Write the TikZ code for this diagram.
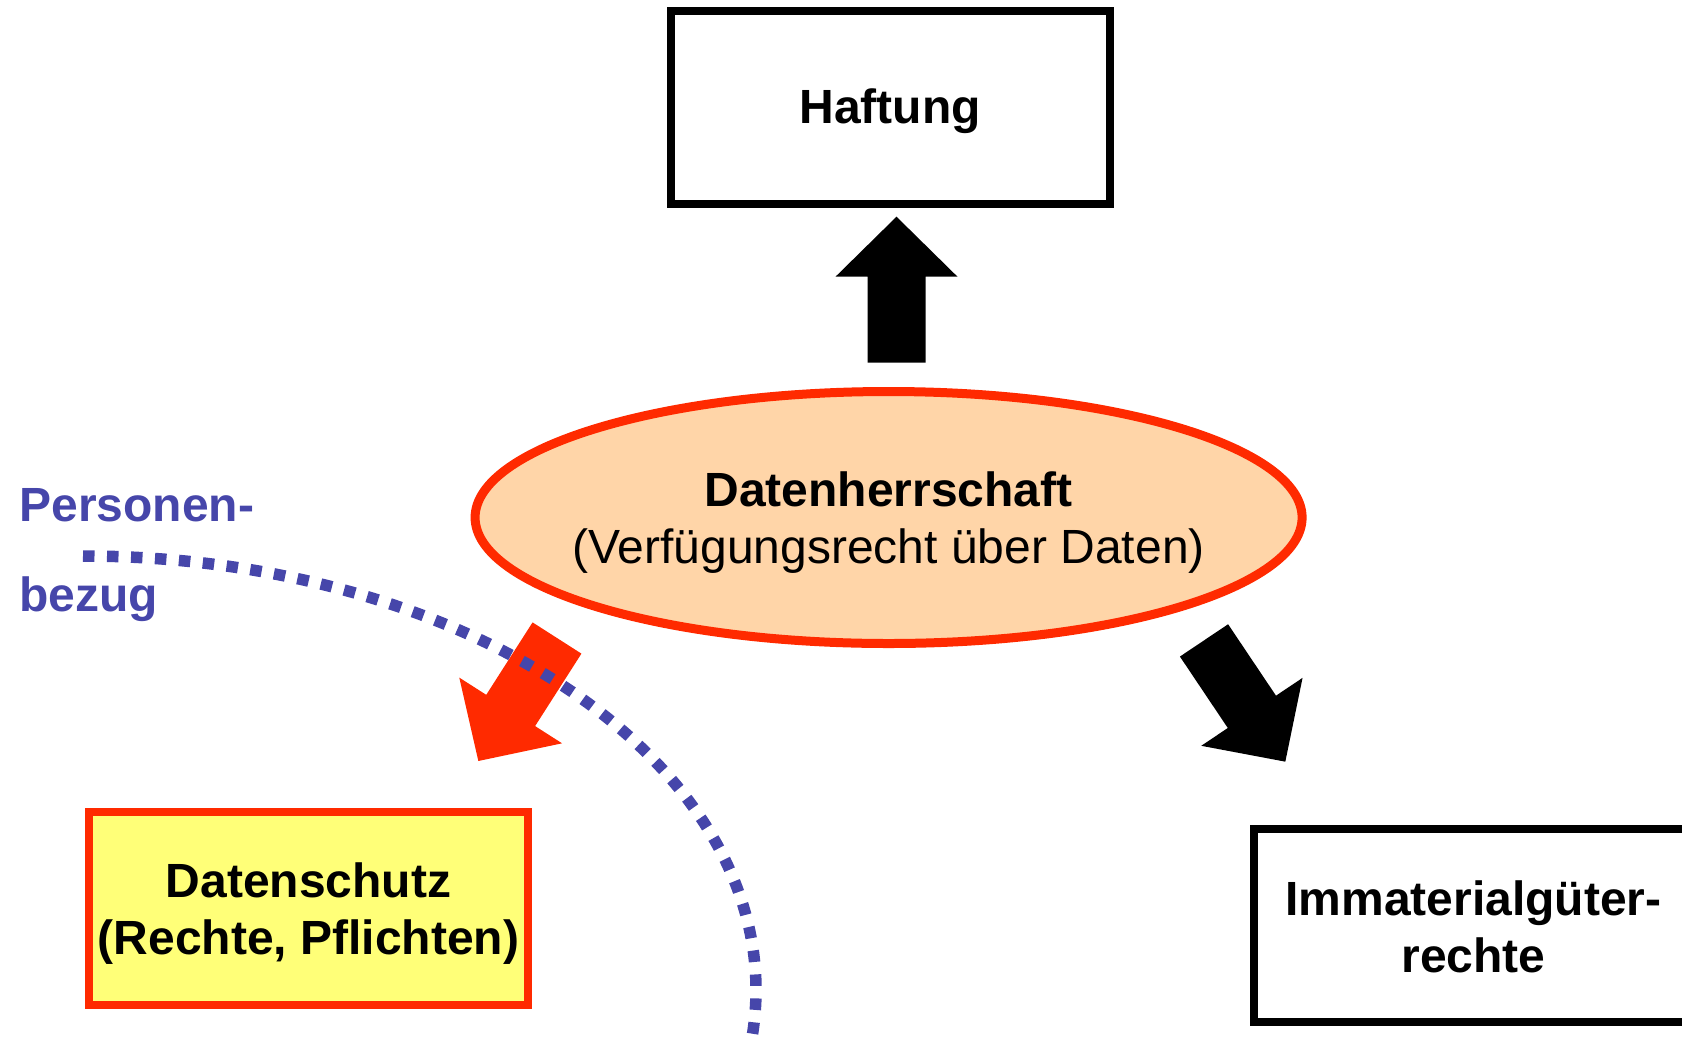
\documentclass[tikz,border=0pt]{standalone}
\usepackage{fontspec}
\setmainfont{Liberation Sans}
\usetikzlibrary{shapes.geometric}
\definecolor{redline}{HTML}{FF2A00}
\definecolor{peach}{HTML}{FFD5A8}
\definecolor{yellowfill}{HTML}{FFFF78}
\definecolor{bluetext}{HTML}{4646AA}
% block arrow: #1 tail coordinate, #2 angle, #3 colour
\newcommand\myblockarrow[3]{%
  \fill[#3, shift={(#1)}, rotate=#2]
    (0pt,-14.5pt) -- (43pt,-14.5pt) -- (43pt,-30.5pt) -- (73pt,0pt)
    -- (43pt,30.5pt) -- (43pt,14.5pt) -- (0pt,14.5pt) -- cycle;}
\begin{document}
\begin{tikzpicture}[x=0.5pt,y=-0.5pt,
  bigfont/.style={font=\fontsize{24}{28.5}\selectfont},
  boxnode/.style={draw=black, line width=4pt, minimum width=219.5pt,
    minimum height=96.5pt, inner sep=0pt},
  boxtext/.style={inner sep=0pt, align=center,
    font=\fontsize{24}{28.5}\selectfont\bfseries},
  bluelabel/.style={anchor=base west, inner sep=0pt, text=bluetext,
    font=\fontsize{24}{28.5}\selectfont\bfseries},
  dotline/.style={draw=bluetext, line width=5.75pt,
    dash pattern=on 5.75pt off 6.25pt, line cap=butt}]
\useasboundingbox (0,0) rectangle (1682,1040);
\clip (0,0) rectangle (1682,1040);

% boxes and ellipse
\node[boxnode] (haft) at (890,107) {};
\node[ellipse, draw=redline, fill=peach, line width=4.5pt,
  minimum width=413.5pt, minimum height=126pt, inner sep=0pt]
  (herr) at (888.6,517.5) {};
\node[boxnode, draw=redline, fill=yellowfill] (schutz) at (308.5,908.5) {};
\node[boxnode] (immat) at (1473.5,925) {};

% texts
\node[boxtext] (hafttext) at ([yshift=-2pt]haft.center) {Haftung};
\node[inner sep=0pt, align=center, bigfont] (herrtext)
  at ([yshift=-2.5pt]herr.center)
  {{\bfseries Datenherrschaft}\\(Verfügungsrecht über Daten)};
\node[boxtext] (schutztext) at ([yshift=-2.5pt]schutz.center)
  {Datenschutz\\(Rechte, Pflichten)};
\node[boxtext] (immattext) at ([yshift=-1pt]immat.center)
  {Immaterialgüter-\\rechte};

\node[bluelabel] (pers) at (19,521) {Personen-};
\node[bluelabel] (bez) at (19,611) {bezug};

% block arrows
\coordinate (uptail) at (896.5,362.7);
\coordinate (redtail) at (557,638);
\coordinate (righttail) at (1204,640.4);
\myblockarrow{uptail}{90}{black}
\myblockarrow{redtail}{-122.6}{redline}
\myblockarrow{righttail}{-56.15}{black}

% dotted arc
\coordinate (dotstart) at (83,556);
\draw[dotline] (dotstart) arc[start angle=90, end angle=-10,
  x radius=336.5pt, y radius=217pt];
\end{tikzpicture}
\end{document}
